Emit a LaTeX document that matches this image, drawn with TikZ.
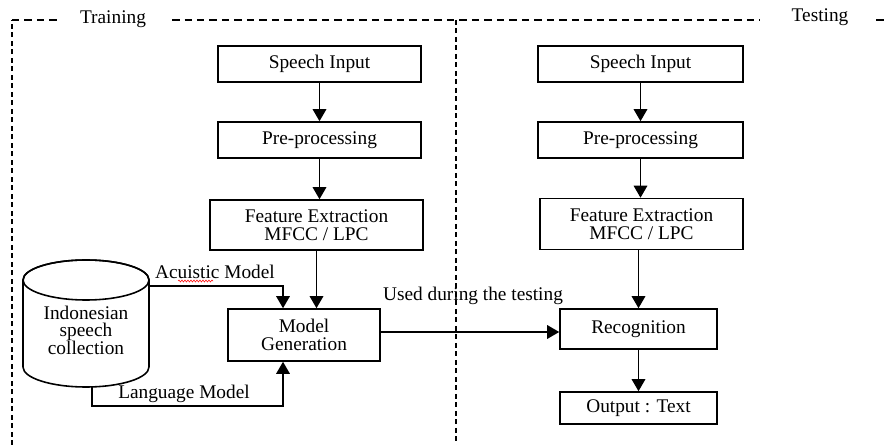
\documentclass[tikz,border=0pt]{standalone}
\usepackage{fontspec}
\setmainfont{Liberation Serif}
\usetikzlibrary{arrows.meta}
\usetikzlibrary{decorations.pathmorphing}

\begin{document}
\begin{tikzpicture}[x=0.02cm, y=-0.02cm, font=\fontsize{11}{10}\selectfont,
  block/.style={draw, line width=0.9pt, align=center, inner sep=0pt},
  link/.style={line width=0.9pt, -{Triangle[length=0.24cm, width=0.27cm]}},
  frame/.style={line width=0.8pt, dash pattern=on 0.15cm off 0.1cm},
  vframe/.style={line width=0.8pt, dash pattern=on 0.1cm off 0.07cm}]
\useasboundingbox (0,0) rectangle (888,445);

% dashed frames
\draw[frame] (12,20) -- (58,20);
\draw[vframe] (12,445) -- (12,20);
\draw[frame] (172,20) -- (760,20);
\draw[frame] (876,20) -- (888,20);
\draw[vframe] (456,20) -- (456,445);
\node (trainlbl) at (113,19) {Training};
\node (testlbl) at (820,17) {Testing};

% training
\node[block, minimum width=4.06cm, minimum height=0.72cm] (sp1) at (319.5,64) {Speech Input};
\node[block, minimum width=4.06cm, minimum height=0.72cm] (pre1) at (319.5,140) {Pre-processing};
\node[block, minimum width=4.26cm, minimum height=1.0cm] (fe1) at (316.5,225) {Feature Extraction\\MFCC / LPC};
\node[block, minimum width=3.04cm, minimum height=1.04cm] (mg) at (304,335) {Model\\Generation};

% speech collection
\draw[line width=0.9pt] (23,367) arc[start angle=180, end angle=360, x radius=1.26cm, y radius=0.4cm]
  -- (149,280) arc[start angle=0, end angle=180, x radius=1.26cm, y radius=0.4cm] -- cycle;
\draw[line width=0.9pt] (86,280) ellipse[x radius=1.26cm, y radius=0.4cm];
\node[align=center] (db) at (86,330) {Indonesian\\speech\\collection};
\coordinate (acu) at (149,286);
\coordinate (lang) at (92,386);

% testing
\node[block, minimum width=4.1cm, minimum height=0.72cm] (sp2) at (640.5,64) {Speech Input};
\node[block, minimum width=4.1cm, minimum height=0.72cm] (pre2) at (640.5,140) {Pre-processing};
\node[block, minimum width=4.06cm, minimum height=1.02cm] (fe2) at (641.5,224) {Feature Extraction\\MFCC / LPC};
\node[block, minimum width=3.14cm, minimum height=0.8cm] (rec) at (638.5,329) {Recognition};
\node[block, minimum width=3.14cm, minimum height=0.64cm] (out) at (638.5,408) {Output : Text};

\draw[link] (sp1) -- (pre1);
\draw[link] (pre1) -- (pre1 |- fe1.north);
\draw[link] (fe1.south) -- (fe1.south |- mg.north);
\draw[link] (acu) -| ([xshift=-0.42cm]mg.north);
\draw[link] (lang) -- ++(0,20) -| ([xshift=-0.42cm]mg.south);
\draw[link] ([yshift=0.06cm]mg.east) -- ([yshift=0.06cm]mg.east -| rec.west);

\draw[link] (sp2) -- (pre2);
\draw[link] (pre2) -- (pre2 |- fe2.north);
\draw[link] (fe2.south -| rec) -- (rec);
\draw[link] (rec) -- (out);

\node (acutxt) at (215,272) {Acuistic Model};
\draw[red, line width=0.3pt, decorate, decoration={snake, amplitude=0.02cm, segment length=0.06cm}] (178,281) -- (213,281);
\node (langtxt) at (184,394) {Language Model};
\node (usedtxt) at (473,296) {Used during the testing};
\end{tikzpicture}
\end{document}
